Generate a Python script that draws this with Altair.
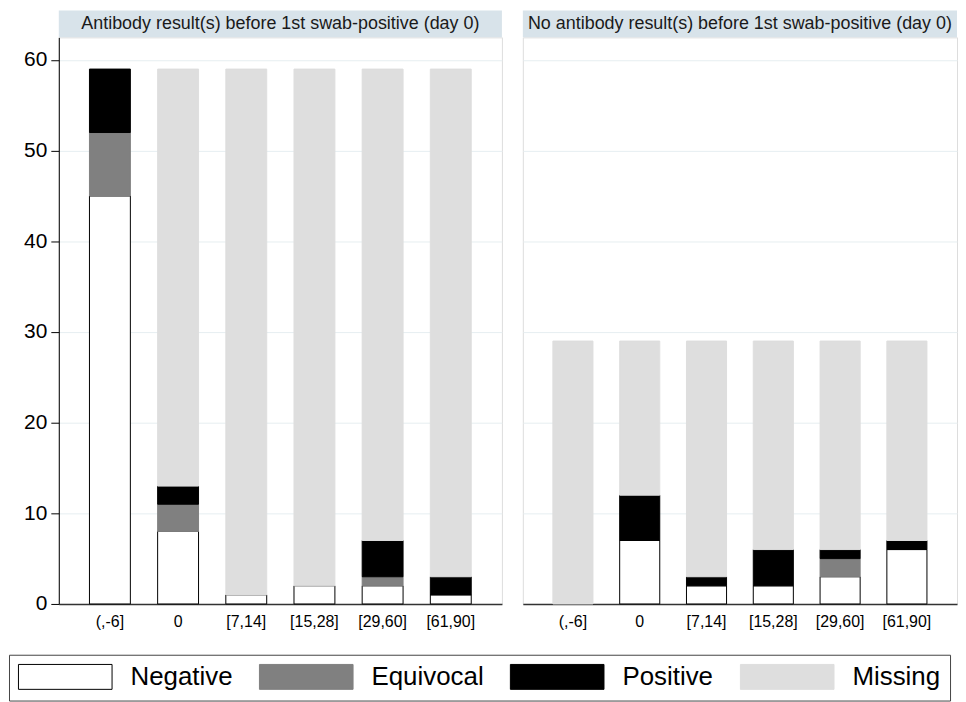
import altair as alt
import pandas as pd

intervals = ["(,-6]", "0", "[7,14]", "[15,28]", "[29,60]", "[61,90]"]
outcomes = ["Negative", "Equivocal", "Positive", "Missing"]
fills = ["#ffffff", "#808080", "#000000", "#dedede"]
strokes = ["#000000", "#808080", "#000000", "#dedede"]

panel_titles = [
    "Antibody result(s) before 1st swab-positive (day 0)",
    "No antibody result(s) before 1st swab-positive (day 0)",
]

left_neg = [45, 8, 1, 2, 2, 1]
left_equ = [7, 3, 0, 0, 1, 0]
left_pos = [7, 2, 0, 0, 4, 2]
left_mis = [0, 46, 58, 57, 52, 56]

right_neg = [0, 7, 2, 2, 3, 6]
right_equ = [0, 0, 0, 0, 2, 0]
right_pos = [0, 5, 1, 4, 1, 1]
right_mis = [29, 17, 26, 23, 23, 22]

y_ticks = [0, 10, 20, 30, 40, 50, 60]

FONT = "Liberation Sans"
HDR_BG = "#d8e3ea"
GRID = "#e6eef1"
PLOT_H = 569
HDR_H = 27
Y_EXTENT = 50


def make_df(series):
    rows = []
    for oi, (name, vals) in enumerate(zip(outcomes, series)):
        for iv, v in zip(intervals, vals):
            if v > 0:
                rows.append({"interval": iv, "outcome": name, "count": v, "ord": oi})
    return pd.DataFrame(rows)


# wide rectangular swatch: 94 x 25 px drawn from the entry's left edge
legend = alt.Legend(
    orient="none", legendX=-Y_EXTENT, legendY=620, direction="horizontal", columns=4,
    title=None, symbolType="M-1,-1L6.52,-1L6.52,1L-1,1Z", symbolSize=625,
    symbolStrokeWidth=1, labelFontSize=26, labelFont=FONT, labelColor="#000000",
    labelOffset=87, columnPadding=24, padding=9, strokeColor="#444444",
    labelLimit=300, gridAlign="each",
)


def panel(df, title, width, show_y):
    if show_y:
        yaxis = alt.Axis(values=y_ticks, title=None, tickSize=8, tickColor="#000000",
                         domainColor="#000000", labelFontSize=21, labelFont=FONT,
                         labelColor="#000000", labelPadding=4, grid=True, gridColor=GRID,
                         minExtent=Y_EXTENT, maxExtent=Y_EXTENT)
    else:
        yaxis = alt.Axis(values=y_ticks, title=None, labels=False, ticks=False,
                         domain=False, grid=True, gridColor=GRID, minExtent=0, maxExtent=0)
    bars = alt.Chart(df).mark_bar(strokeWidth=1).encode(
        x=alt.X("interval:N", sort=intervals,
                scale=alt.Scale(domain=intervals, paddingInner=0.4, paddingOuter=0.45),
                axis=alt.Axis(title=None, labelAngle=0, ticks=False, domainColor="#333333",
                              domainWidth=1.5, labelFontSize=16, labelFont=FONT,
                              labelColor="#000000", labelPadding=10, grid=False)),
        y=alt.Y("count:Q", stack="zero", scale=alt.Scale(domain=[0, 62.5], nice=False),
                axis=yaxis),
        fill=alt.Fill("outcome:N", scale=alt.Scale(domain=outcomes, range=fills), legend=legend),
        stroke=alt.Stroke("outcome:N", scale=alt.Scale(domain=outcomes, range=strokes), legend=legend),
        order=alt.Order("ord:Q", sort="ascending"),
    )
    hdr = pd.DataFrame({"title": [title]})
    rect = alt.Chart(hdr).mark_rect(color=HDR_BG).encode(
        x=alt.value(0), x2=alt.value(width), y=alt.value(-HDR_H), y2=alt.value(0))
    text = alt.Chart(hdr).mark_text(fontSize=18, font=FONT, color="#1a1a1a",
                                    baseline="middle", align="center").encode(
        x=alt.value(width / 2), y=alt.value(-HDR_H / 2), text="title:N")
    return alt.layer(rect, text, bars).properties(width=width, height=PLOT_H)


left = panel(make_df([left_neg, left_equ, left_pos, left_mis]), panel_titles[0], 445, True)
right = panel(make_df([right_neg, right_equ, right_pos, right_mis]), panel_titles[1], 436, False)

chart = alt.hconcat(left, right, spacing=19).properties(
    padding={"left": 0, "top": 0, "right": 0, "bottom": 0}
).configure_view(stroke=None).configure(font=FONT).resolve_scale(fill="shared", stroke="shared")

chart.save("out.html", embed_options={"renderer": "svg", "actions": False})
